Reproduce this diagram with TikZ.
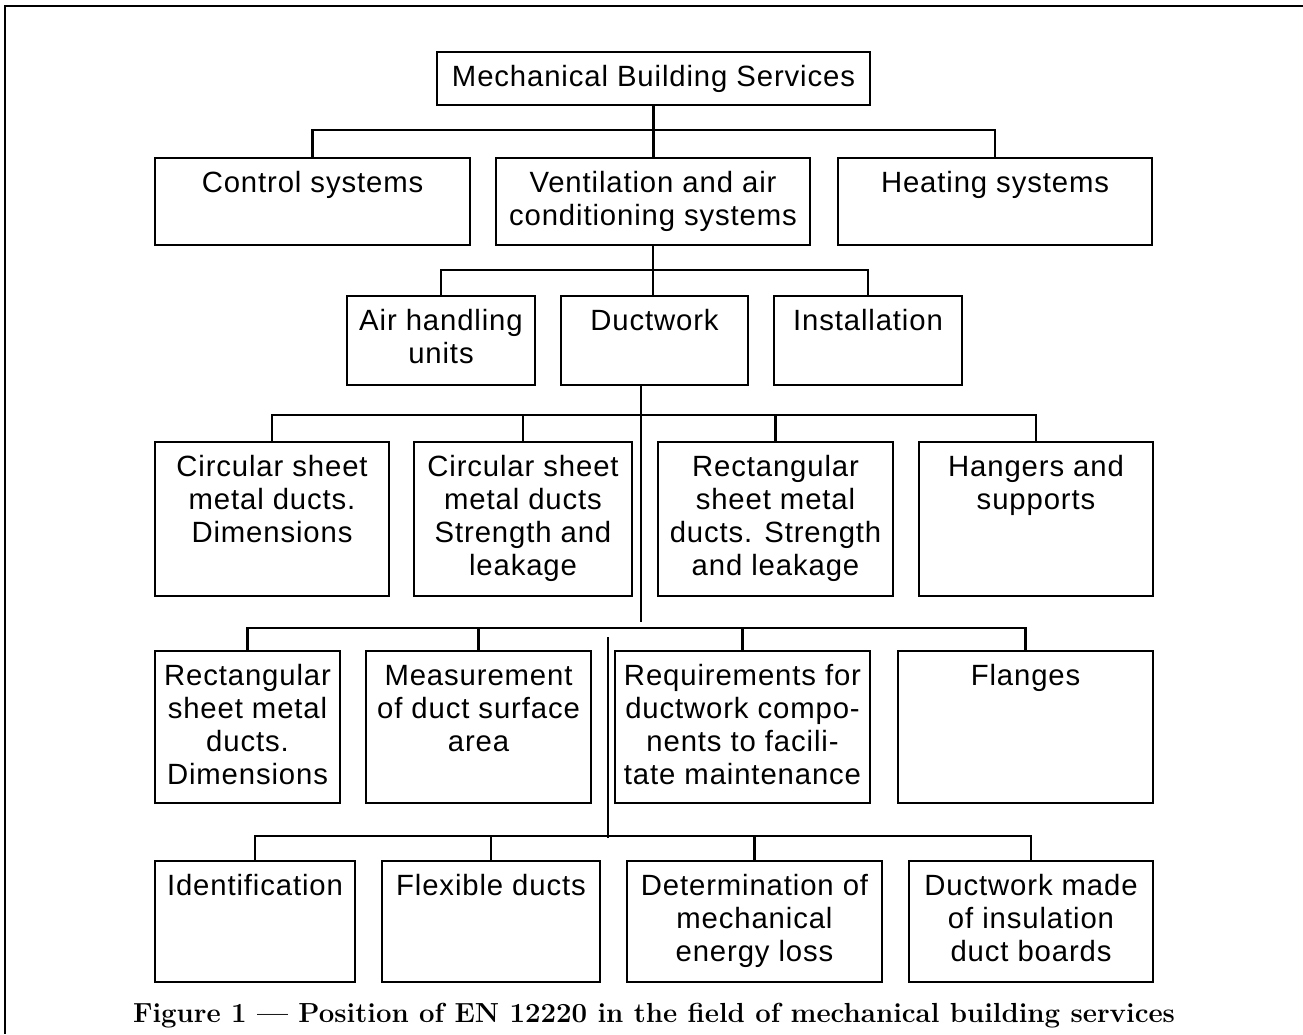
\documentclass[tikz,border=0pt]{standalone}
\usepackage{fontspec}
\newfontfamily\boxfont[LetterSpace=3]{Liberation Sans}
\tikzset{
  bx/.style={draw, line width=2.4pt, rectangle, inner sep=0pt, outer sep=0pt},
  tx/.style={inner sep=0pt, outer sep=0pt, anchor=base, font=\boxfont\fontsize{29.3}{33}\selectfont},
  conn/.style={line width=2.4pt},
  frame/.style={line width=2.6pt},
}
\newcommand\mybox[6]{%
  \node[bx, minimum width={(#4-#2)*1pt}, minimum height={(#5-#3)*1pt}] (#1) at ({(#2+#4)/2},{(#3+#5)/2}) {};
  \node[tx] (#1t) at ([yshift=-34pt]#1.north) {\parbox[t]{460pt}{\centering #6}};
}
\begin{document}
\begin{tikzpicture}[x=1pt,y=-1pt]
\useasboundingbox (0,0) rectangle (1303,1034);
\draw[frame] (1303,6) -- (5,6) -- (5,1034);

\mybox{mbs}{437}{52}{870}{105}{Mechanical Building Services}
\mybox{ctl}{155}{158}{470}{245}{Control systems}
\mybox{vent}{496}{158}{810}{245}{Ventilation and air\\conditioning systems}
\mybox{hea}{838}{158}{1152}{245}{Heating systems}
\mybox{ahu}{347}{296}{535}{385}{Air handling\\units}
\mybox{duct}{561}{296}{748}{385}{Ductwork}
\mybox{ins}{774}{296}{962}{385}{Installation}
\mybox{c1}{155}{442}{389}{596}{Circular sheet\\metal ducts.\\Dimensions}
\mybox{c2}{414}{442}{632}{596}{Circular sheet\\metal ducts\\Strength and\\leakage}
\mybox{r1}{658}{442}{893}{596}{Rectangular\\sheet metal\\ducts. Strength\\and leakage}
\mybox{hg}{919}{442}{1153}{596}{Hangers and\\supports}
\mybox{rd}{155}{651}{340}{803}{Rectangular\\sheet metal\\ducts.\\Dimensions}
\mybox{ms}{366}{651}{591}{803}{Measurement\\of duct surface\\area}
\mybox{rq}{615}{651}{870}{803}{Requirements for\\ductwork compo-\\nents to facili-\\tate maintenance}
\mybox{fl}{898}{651}{1153}{803}{Flanges}
\mybox{id}{155}{861}{355}{982}{Identification}
\mybox{fx}{382}{861}{600}{982}{Flexible ducts}
\mybox{de}{627}{861}{882}{982}{Determination of\\mechanical\\energy loss}
\mybox{dm}{909}{861}{1153}{982}{Ductwork made\\of insulation\\duct boards}

\coordinate (b1) at (0,130);
\coordinate (b2) at (0,270);
\coordinate (b3) at (0,415);
\coordinate (b4) at (0,628);
\coordinate (b5) at (0,836);
\coordinate (t1) at (641,622);
\coordinate (t2a) at (608,637);
\coordinate (t2b) at (608,838);

% level 1
\draw[conn] (mbs.south) -- (mbs.south |- vent.north);
\draw[conn] (ctl.north) |- (hea.north |- b1) -- (hea.north);
% level 2
\draw[conn] (vent.south) -- (vent.south |- duct.north);
\draw[conn] (ahu.north) |- (ins.north |- b2) -- (ins.north);
% level 3
\draw[conn] (duct.south -| t1) -- (t1);
\draw[conn] (c1.north) |- (hg.north |- b3) -- (hg.north);
\draw[conn] (c2.north) -- (c2.north |- b3);
\draw[conn] (r1.north) -- (r1.north |- b3);
% level 4
\draw[conn] (t2a) -- (t2b);
\draw[conn] (rd.north) |- (fl.north |- b4) -- (fl.north);
\draw[conn] (ms.north) -- (ms.north |- b4);
\draw[conn] (rq.north) -- (rq.north |- b4);
% level 5
\draw[conn] (id.north) |- (dm.north |- b5) -- (dm.north);
\draw[conn] (fx.north) -- (fx.north |- b5);
\draw[conn] (de.north) -- (de.north |- b5);

\node[anchor=base, inner sep=0pt, font=\fontsize{27.6}{32}\selectfont\bfseries] (cap) at (654,1022) {Figure 1 — Position of EN 12220 in the field of mechanical building services};
\end{tikzpicture}
\end{document}
